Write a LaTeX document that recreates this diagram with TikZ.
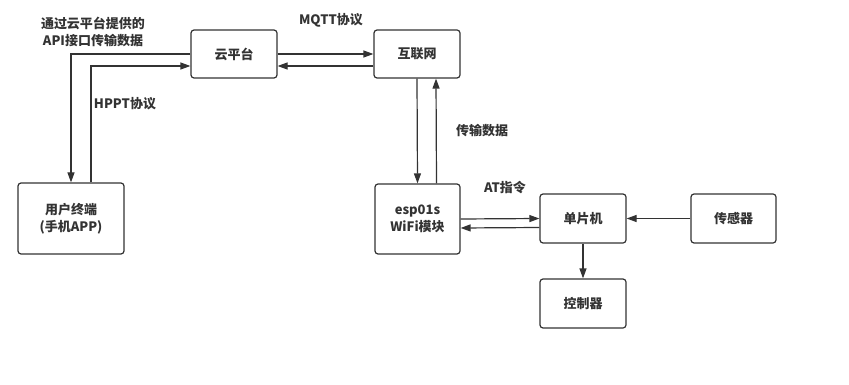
\documentclass[tikz,border=0pt]{standalone}
\usepackage{fontspec}
\setmainfont{Noto Sans CJK SC}
\usepackage{xcolor}
\usepackage{tikz}
\usetikzlibrary{arrows.meta}
\definecolor{ink}{HTML}{333333}

\begin{document}
\begin{tikzpicture}[x=1pt, y=-1pt,
        box/.style={draw=ink, line width=1.2pt, rounded corners=3pt, minimum width=86pt,
                    minimum height=48pt, inner sep=0pt, align=center, text=ink,
                    font=\fontsize{13}{17}\selectfont\bfseries},
        lbl/.style={align=center, text=ink, font=\fontsize{13}{17}\selectfont\bfseries},
        arr/.style={-{Triangle[length=10pt, width=7pt]}, draw=ink, line width=1.2pt}
    ]
        \useasboundingbox (0,0) rectangle (849,385);
        \node[box] (cloud) at (234,54)  {云平台};
        \node[box] (net)   at (417,54)  {互联网};
        \node[box, minimum width=106pt, minimum height=71pt] (user) at (71,218.5) {用户终端\\(手机APP)};
        \node[box, minimum width=85pt, minimum height=70pt]  (esp)  at (417.5,219) {esp01s\\WiFi模块};
        \node[box, minimum height=49pt] (mcu)    at (583,218.5)   {单片机};
        \node[box, minimum width=85pt, minimum height=49pt] (sensor) at (733.5,218.5) {传感器};
        \node[box, minimum height=49pt] (ctrl)   at (583,303.5)   {控制器};
        \node[lbl] (apitxt) at (93,32)   {通过云平台提供的\\API接口传输数据};
        \node[lbl] (hppt)   at (125,104) {HPPT协议};
        \node[lbl] (mqtt)   at (331,20)  {MQTT协议};
        \node[lbl] (trans)  at (482,131) {传输数据};
        \node[lbl] (atcmd)  at (505,188) {AT指令};
        \draw[arr] (cloud.west) -| (user.north);
        \draw[arr] ([xshift=20pt]user.north) |- ([yshift=-12pt]cloud.west);
        \draw[arr] (cloud.east) -- (net.west);
        \draw[arr] ([yshift=-12pt]net.west) -- ([yshift=-12pt]cloud.east);
        \draw[arr] (net.south) -- (esp.north);
        \draw[arr] ([xshift=19pt]esp.north) -- ([xshift=19pt]net.south);
        \draw[arr] (esp.east) -- (mcu.west);
        \draw[arr] ([yshift=-9pt]mcu.west) -- ([yshift=-9pt]esp.east);
        \draw[arr] (sensor) -- (mcu);
        \draw[arr] (mcu) -- (ctrl);
    \end{tikzpicture}
\end{document}
